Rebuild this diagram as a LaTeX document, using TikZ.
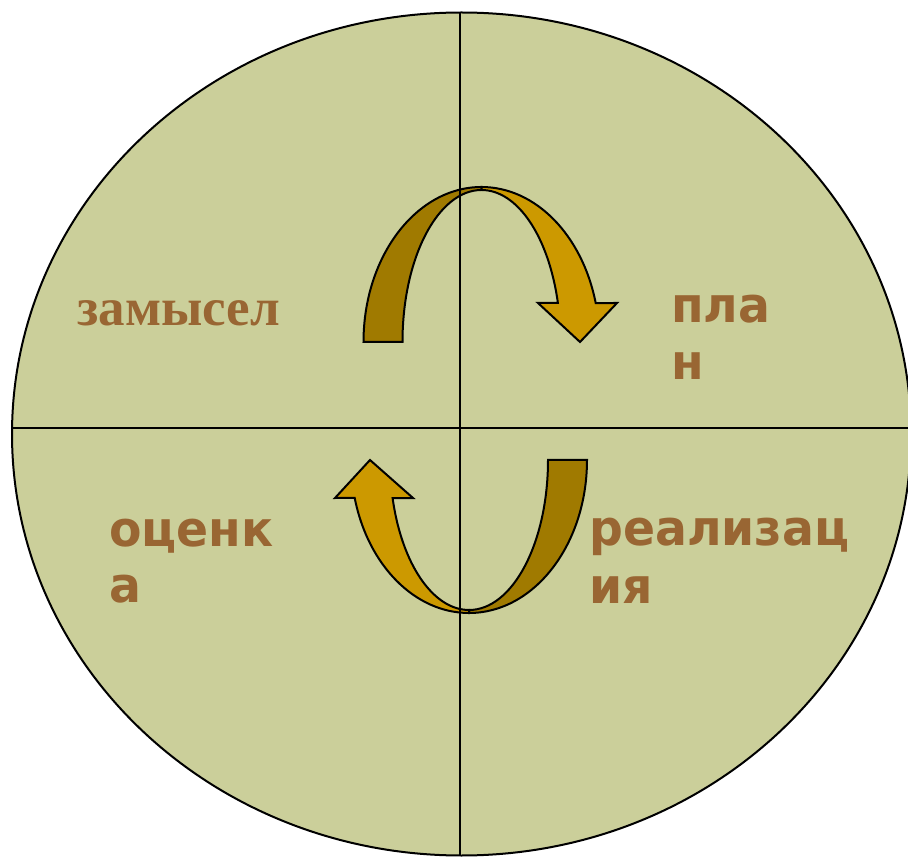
\documentclass[tikz,border=0pt]{standalone}
\usepackage{fontspec}
\newfontfamily\dvsans[FakeStretch=0.965]{DejaVu Sans}
\newfontfamily\libserif{Liberation Serif}
\definecolor{bgfill}{RGB}{203,207,154}
\definecolor{txtbrown}{RGB}{153,102,51}
\definecolor{arrdark}{RGB}{160,122,0}
\definecolor{arrlight}{RGB}{204,153,0}
\tikzset{
  sanslbl/.style={inner sep=0pt, anchor=base west, text=txtbrown, font=\dvsans\bfseries\fontsize{49}{57}\selectfont},
  seriflbl/.style={inner sep=0pt, anchor=base west, text=txtbrown, font=\libserif\bfseries\fontsize{53}{60}\selectfont},
  darkpart/.style={fill=arrdark, draw=black, line width=2pt, line join=miter},
  lightpart/.style={fill=arrlight, draw=black, line width=2pt, line join=miter},
  divider/.style={draw=black, line width=2pt}
}
\begin{document}
\begin{tikzpicture}[x=1pt,y=-1pt]
\useasboundingbox (0,0) rectangle (908,858);
% background ellipse
\path[fill=bgfill, draw=black, line width=2pt] (461.5,434) ellipse[x radius=449.5, y radius=421.5];
% top arrow (centre 481.5,342)
\path[darkpart] (363.5,342) arc[start angle=-180, end angle=-90, x radius=118, y radius=155]
  -- (481.5,190) arc[start angle=-90, end angle=-180, x radius=79, y radius=152] -- cycle;
\path[lightpart] (481.5,187) arc[start angle=-90, end angle=-14.57, x radius=118, y radius=155]
  -- (617,303) -- (580,342) -- (538,303) -- (557.9,303)
  arc[start angle=-14.87, end angle=-90, x radius=79, y radius=152] -- cycle;
% bottom arrow (centre 469,460)
\path[darkpart] (548,460) -- (587,460) arc[start angle=0, end angle=90, x radius=118, y radius=153]
  -- (469,610) arc[start angle=90, end angle=0, x radius=79, y radius=150] -- cycle;
\path[lightpart] (469,613) arc[start angle=90, end angle=165.62, x radius=118, y radius=153]
  -- (335,498) -- (370,460) -- (413,498) -- (392.6,498)
  arc[start angle=165.32, end angle=90, x radius=79, y radius=150] -- cycle;
% dividing lines
\coordinate (vtop) at (460,12.5);
\coordinate (vbot) at (460,855.5);
\coordinate (hleft) at (12,428);
\coordinate (hright) at (908,428);
\draw[divider] (vtop) -- (vbot);
\draw[divider] (hleft) -- (hright);
% labels
\node[seriflbl] (zamysel) at (77,326) {замысел};
\node[sanslbl] (plan1) at (671,323) {пла};
\node[sanslbl] (plan2) at (671,380) {н};
\node[sanslbl] (otsenka1) at (109,546) {оценк};
\node[sanslbl] (otsenka2) at (109,602) {а};
\node[sanslbl] (real1) at (589,545) {реализац};
\node[sanslbl] (real2) at (589,603) {ия};
\end{tikzpicture}
\end{document}
